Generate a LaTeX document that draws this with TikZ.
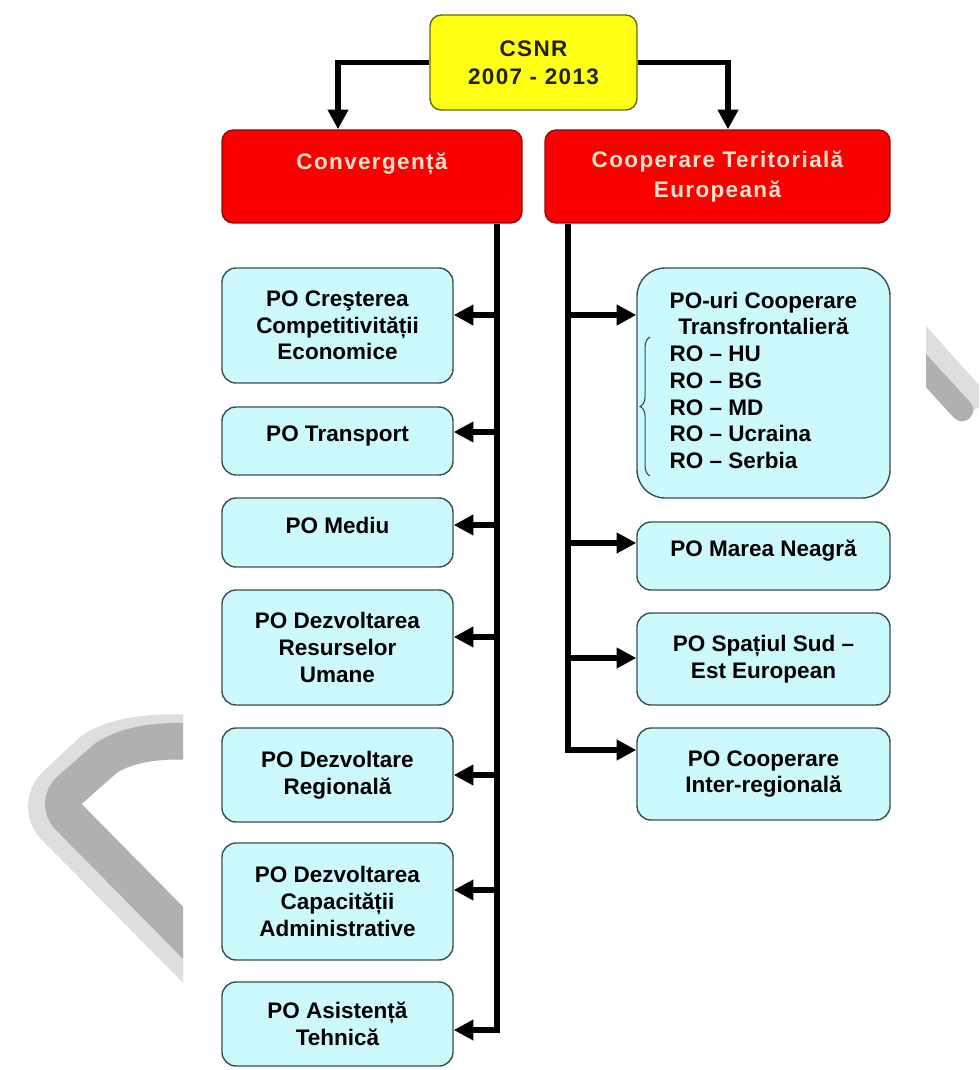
\documentclass[tikz,border=0pt]{standalone}
\usepackage{fontspec}
\setmainfont{Liberation Sans}
\newfontfamily\widefont[LetterSpace=6]{Liberation Sans}
\usetikzlibrary{arrows.meta,decorations.pathreplacing}

\definecolor{pocyan}{RGB}{204,250,252}
\definecolor{poedge}{RGB}{55,80,80}
\definecolor{headred}{RGB}{250,0,0}
\definecolor{headedge}{RGB}{150,10,10}
\definecolor{headtext}{RGB}{255,226,204}
\definecolor{topyellow}{RGB}{255,255,20}
\definecolor{topedge}{RGB}{110,100,20}
\definecolor{topinkk}{RGB}{35,35,10}
\definecolor{wmdark}{RGB}{176,176,176}
\definecolor{wmlight}{RGB}{222,222,222}

\def\px{0.025cm}

\tikzset{
  pobox/.style={draw=poedge, fill=pocyan, line width=1pt, rounded corners=10pt,
    align=center, inner sep=2pt, font=\bfseries\fontsize{16}{19}\selectfont},
  leftbox/.style={pobox, minimum width=231*\px},
  rightbox/.style={pobox, minimum width=253*\px},
  headbox/.style={draw=headedge, fill=headred, line width=1pt, rounded corners=8pt,
    align=center, text=headtext, minimum height=93*\px,
    font=\widefont\bfseries\fontsize{16}{21}\selectfont},
  topbox/.style={draw=topedge, fill=topyellow, line width=1pt, rounded corners=8pt,
    align=center, text=topinkk, minimum width=207*\px, minimum height=95*\px,
    font=\widefont\bfseries\fontsize{16}{20}\selectfont},
  oneline/.style={text height=12pt, text depth=11pt},
  conn/.style={line width=4.2pt, -{Triangle[length=14pt,width=14pt]}},
}

\begin{document}
\begin{tikzpicture}[x=0.025cm, y=-0.025cm]
    \useasboundingbox (0,0) rectangle (979,1070);

    \begin{scope}
        \clip (0,0) rectangle (183,1070);
        \draw [wmlight, line width=32pt, rounded corners=18pt] (200,738) .. controls (140,733) and (105,745) .. (75,772) -- (40,806) -- (200,968);
        \draw [wmdark, line width=26pt, rounded corners=14pt] (200,742) .. controls (145,738) and (115,750) .. (88,774) -- (55,803) -- (200,950);
    \end{scope}
    \begin{scope}
        \clip (926,0) rectangle (979,1070);
        \draw [wmlight, line width=22pt, line cap=round] (900,320) -- (968,396);
        \draw [wmdark, line width=16pt, line cap=round] (898,340) -- (962,410);
    \end{scope}

    \node [topbox] (csnr) at (533.5,62.5) {CSNR\\2007 - 2013};
    \node [headbox, minimum width=300*\px, text height=12pt, text depth=22pt] (conv) at (372,176.5) {Convergență};
    \node [headbox, minimum width=345*\px] (coop) at (717.5,176.5) {Cooperare Teritorială\\Europeană};

    \node [leftbox, minimum height=115*\px] (b1) at (337.5,325.5) {PO Creşterea\\Competitivității\\Economice};
    \node [leftbox, oneline, minimum height=68*\px] (b2) at (337.5,441) {PO Transport};
    \node [leftbox, oneline, minimum height=69*\px] (b3) at (337.5,532.5) {PO Mediu};
    \node [leftbox, minimum height=115*\px] (b4) at (337.5,647.5) {PO Dezvoltarea\\Resurselor\\Umane};
    \node [leftbox, minimum height=94*\px] (b5) at (337.5,775) {PO Dezvoltare\\Regională};
    \node [leftbox, minimum height=117*\px] (b6) at (337.5,901.5) {PO Dezvoltarea\\Capacității\\Administrative};
    \node [leftbox, minimum height=84*\px] (b7) at (337.5,1024) {PO Asistență\\Tehnică};

    \node [rightbox, rounded corners=20pt, minimum height=230*\px] (tf) at (763.5,383) {%
        \begin{tabular}{@{}c@{}}
        PO-uri Cooperare\\
        Transfrontalieră\\
        \multicolumn{1}{@{}l@{}}{RO – HU}\\
        \multicolumn{1}{@{}l@{}}{RO – BG}\\
        \multicolumn{1}{@{}l@{}}{RO – MD}\\
        \multicolumn{1}{@{}l@{}}{RO – Ucraina}\\
        \multicolumn{1}{@{}l@{}}{RO – Serbia}
        \end{tabular}};
    \node [rightbox, oneline, minimum height=68*\px] (r2) at (763.5,556) {PO Marea Neagră};
    \node [rightbox, minimum height=92*\px] (r3) at (763.5,659) {PO Spațiul Sud –\\Est European};
    \node [rightbox, minimum height=92*\px] (r4) at (763.5,774) {PO Cooperare\\Inter-regională};

    \draw [poedge, line width=0.8pt, decorate, decoration={brace, amplitude=7pt}] (650,476) -- (650,337);

    \draw [conn] (csnr.west) -| (conv.north -| 338,0);
    \draw [conn] (csnr.east) -| (coop.north -| 728,0);

    \coordinate (lbus) at (conv.south -| 497,0);
    \foreach \n/\y in {b1/315, b2/432, b3/525, b4/637, b5/775, b6/890} {
        \coordinate (j\n) at (497,\y);
        \draw [conn] (j\n) -- (j\n -| \n.east);
    }
    \coordinate (jb7) at (497,1030);
    \draw [conn] (lbus) |- (jb7 -| b7.east);

    \coordinate (rbus) at (coop.south -| 568,0);
    \foreach \n/\y in {tf/315, r2/543, r3/658} {
        \coordinate (k\n) at (568,\y);
        \draw [conn] (k\n) -- (k\n -| \n.west);
    }
    \coordinate (kr4) at (568,750);
    \draw [conn] (rbus) |- (kr4 -| r4.west);
\end{tikzpicture}
\end{document}
